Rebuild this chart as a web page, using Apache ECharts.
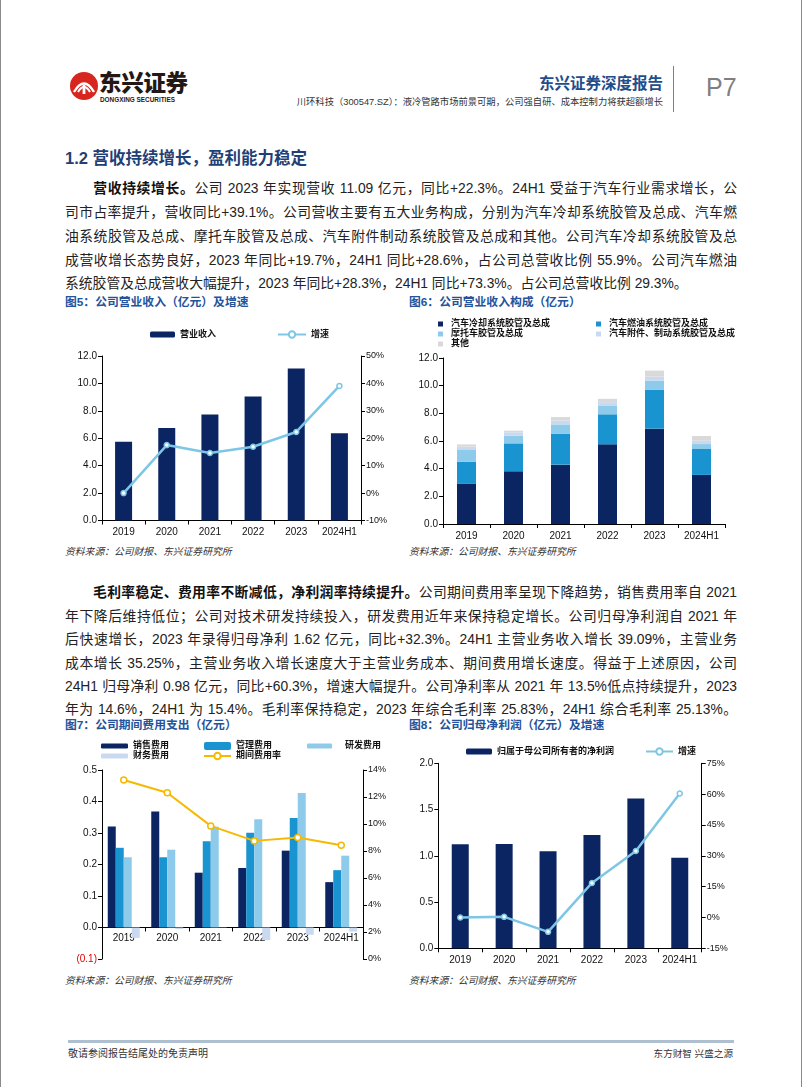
<!DOCTYPE html>
<html>
<head>
<meta charset="utf-8">
<script src="https://cdn.jsdelivr.net/npm/echarts@6/dist/echarts.min.js"></script>
<style>
  html, body { margin:0; padding:0; background:#fff; }
  body { width:802px; height:1087px; position:relative; overflow:hidden;
         font-family:"Liberation Sans","Noto Sans CJK SC",sans-serif; color:#222; }
  .abs { position:absolute; white-space:nowrap; }
  .line { position:absolute; left:65px; width:672px; font-size:13.8px; line-height:18px;
          text-align:justify; text-align-last:justify; white-space:normal; color:#222; }
  .line.last { text-align-last:left; }
  .line b { font-weight:700; color:#111; }
  .figt { position:absolute; font-size:11.8px; color:#24539B; font-weight:700; line-height:16px; white-space:nowrap; }
  .src { position:absolute; font-size:9.8px; font-style:italic; color:#333; white-space:nowrap; line-height:12px; }
  .chart { position:absolute; }
</style>
</head>
<body>
<!-- page edges -->
<div class="abs" style="left:0;top:0;width:1px;height:1087px;background:#8a8a8a;"></div>
<div class="abs" style="left:801px;top:0;width:1px;height:1087px;background:#8a8a8a;"></div>

<!-- header -->
<svg class="abs" style="left:69px;top:71px;" width="30" height="30" viewBox="0 0 30 30">
  <circle cx="15" cy="15" r="14" fill="#D7261E"/>
  <path d="M5 21 Q15 4 25 21" stroke="#fff" stroke-width="2.4" fill="none"/>
  <path d="M9 21 Q15 11 21 21" stroke="#fff" stroke-width="2" fill="none"/>
  <rect x="13.6" y="14" width="2.8" height="9" fill="#fff"/>
</svg>
<div class="abs" style="left:99px;top:72px;font-size:22.5px;font-weight:900;color:#231815;line-height:24px;letter-spacing:-0.3px;">东兴证券</div>
<div class="abs" style="left:100px;top:96px;font-size:6.4px;font-weight:700;color:#231815;line-height:8px;">DONGXING SECURITIES</div>
<div class="abs" style="right:139px;top:74px;font-size:15.5px;font-weight:700;color:#1F4E8C;line-height:20px;">东兴证券深度报告</div>
<div class="abs" style="right:139px;top:96px;font-size:9.3px;color:#333;line-height:12px;">川环科技（300547.SZ）：液冷管路市场前景可期，公司强自研、成本控制力将获超额增长</div>
<div class="abs" style="left:673px;top:66px;width:1px;height:46px;background:#7f7f7f;"></div>
<div class="abs" style="left:706px;top:73px;font-size:25px;color:#7f7f7f;line-height:28px;">P7</div>

<!-- section heading -->
<div class="abs" style="left:65px;top:148px;font-size:16.5px;font-weight:700;color:#1F3F77;line-height:20px;">1.2 营收持续增长，盈利能力稳定</div>

<!-- paragraph 1 -->
<div class="line" style="top:180px;"><span style="display:inline-block;width:27.6px;"></span><b>营收持续增长。</b>公司 2023 年实现营收 11.09 亿元，同比+22.3%。24H1 受益于汽车行业需求增长，公</div>
<div class="line" style="top:204px;">司市占率提升，营收同比+39.1%。公司营收主要有五大业务构成，分别为汽车冷却系统胶管及总成、汽车燃</div>
<div class="line" style="top:228px;">油系统胶管及总成、摩托车胶管及总成、汽车附件制动系统胶管及总成和其他。公司汽车冷却系统胶管及总</div>
<div class="line" style="top:252px;">成营收增长态势良好，2023 年同比+19.7%，24H1 同比+28.6%，占公司总营收比例 55.9%。公司汽车燃油</div>
<div class="line last" style="top:275px;">系统胶管及总成营收大幅提升，2023 年同比+28.3%，24H1 同比+73.3%。占公司总营收比例 29.3%。</div>

<div class="figt" style="left:65px;top:294px;">图5：公司营业收入（亿元）及增速</div>
<div class="figt" style="left:409px;top:294px;">图6：公司营业收入构成（亿元）</div>

<div id="c5" class="chart" style="left:60px;top:315px;width:340px;height:230px;"></div>
<div id="c6" class="chart" style="left:400px;top:310px;width:340px;height:235px;"></div>

<div class="src" style="left:65px;top:546px;">资料来源：公司财报、东兴证券研究所</div>
<div class="src" style="left:409px;top:546px;">资料来源：公司财报、东兴证券研究所</div>

<!-- paragraph 2 -->
<div class="line" style="top:584px;"><span style="display:inline-block;width:27.6px;"></span><b>毛利率稳定、费用率不断减低，净利润率持续提升。</b>公司期间费用率呈现下降趋势，销售费用率自 2021</div>
<div class="line" style="top:608px;">年下降后维持低位；公司对技术研发持续投入，研发费用近年来保持稳定增长。公司归母净利润自 2021 年</div>
<div class="line" style="top:631px;">后快速增长，2023 年录得归母净利 1.62 亿元，同比+32.3%。24H1 主营业务收入增长 39.09%，主营业务</div>
<div class="line" style="top:655px;">成本增长 35.25%，主营业务收入增长速度大于主营业务成本、期间费用增长速度。得益于上述原因，公司</div>
<div class="line" style="top:678px;">24H1 归母净利 0.98 亿元，同比+60.3%，增速大幅提升。公司净利率从 2021 年 13.5%低点持续提升，2023</div>
<div class="line" style="top:701px;">年为 14.6%，24H1 为 15.4%。毛利率保持稳定，2023 年综合毛利率 25.83%，24H1 综合毛利率 25.13%。</div>

<div class="figt" style="left:65px;top:717px;">图7：公司期间费用支出（亿元）</div>
<div class="figt" style="left:409px;top:717px;">图8：公司归母净利润（亿元）及增速</div>

<div id="c7" class="chart" style="left:60px;top:735px;width:340px;height:235px;"></div>
<div id="c8" class="chart" style="left:400px;top:735px;width:340px;height:235px;"></div>

<div class="src" style="left:65px;top:975px;">资料来源：公司财报、东兴证券研究所</div>
<div class="src" style="left:409px;top:975px;">资料来源：公司财报、东兴证券研究所</div>

<!-- footer -->
<div class="abs" style="left:68px;top:1040px;width:666px;height:2.5px;background:#AEC0D0;"></div>
<div class="abs" style="left:68px;top:1048px;font-size:10px;color:#333;line-height:12px;">敬请参阅报告结尾处的免责声明</div>
<div class="abs" style="right:69px;top:1048px;font-size:9.6px;color:#333;line-height:12px;">东方财智 兴盛之源</div>

<script>
// ===== data =====
const years = ['2019', '2020', '2021', '2022', '2023', '2024H1'];
// Fig 5
const revenue = [5.75, 6.75, 7.73, 9.05, 11.09, 6.36];
const revenueGrowth = [0.0, 17.5, 14.6, 16.9, 22.3, 39.1];
// Fig 6
const segCooling = [2.93, 3.81, 4.29, 5.76, 6.89, 3.55];
const segFuel = [1.56, 2.02, 2.22, 2.17, 2.80, 1.87];
const segMoto = [0.86, 0.56, 0.69, 0.60, 0.67, 0.36];
const segBrake = [0.25, 0.24, 0.28, 0.28, 0.30, 0.24];
const segOther = [0.15, 0.12, 0.25, 0.24, 0.43, 0.34];
const segNames = ['汽车冷却系统胶管及总成', '汽车燃油系统胶管及总成', '摩托车胶管及总成', '汽车附件、制动系统胶管及总成', '其他'];
// Fig 7
const salesExp = [0.321, 0.368, 0.174, 0.189, 0.244, 0.144];
const adminExp = [0.253, 0.223, 0.274, 0.301, 0.348, 0.182];
const rdExp = [0.223, 0.247, 0.320, 0.344, 0.427, 0.228];
const finExp = [-0.033, -0.005, -0.001, -0.040, -0.023, -0.013];
const expRate = [13.26, 12.32, 9.86, 8.75, 9.00, 8.43];
// Fig 8
const netProfit = [1.124, 1.128, 1.049, 1.225, 1.62, 0.98];
const netProfitGrowth = [0.0, 0.3, -7.0, 16.8, 32.3, 60.3];

// ===== styles =====
const FONT = 'Liberation Sans, Arial, Noto Sans CJK SC, sans-serif';
const NAVY = '#0B2462';
const MID = '#1A93D1';
const LIGHT = '#8ECBEB';
const PALE = '#C9DAF0';
const GRAY = '#D9D9D9';
const LINEBLUE = '#7EC6E5';
const GOLD = '#F6B900';
const AX = '#000';

function catAxis(margin) {
  return {
    type: 'category', data: years,
    axisLine: { lineStyle: { color: AX, width: 1 } },
    axisTick: { show: true, length: 4, lineStyle: { color: AX } },
    axisLabel: { fontFamily: FONT, fontSize: 10, color: '#111', margin: margin, interval: 0 }
  };
}
function valAxis(min, max, interval, fmt, pos, size) {
  return {
    type: 'value', min: min, max: max, interval: interval, position: pos,
    axisLine: { show: true, lineStyle: { color: AX, width: 1 } },
    axisTick: { show: true, length: 4, lineStyle: { color: AX } },
    splitLine: { show: false },
    axisLabel: { fontFamily: FONT, fontSize: size, color: '#111', formatter: fmt, margin: 5 }
  };
}
const legText = { fontFamily: FONT, fontSize: 9, fontWeight: 'bold', color: '#111' };

// ===== Fig 5 =====
echarts.init(document.getElementById('c5')).setOption({
  animation: false,
  grid: { left: 42, right: 39, top: 41, bottom: 24.5 },
  legend: [
    { data: ['营业收入'], left: 85, top: 10, itemWidth: 25, itemHeight: 6, textStyle: legText, itemGap: 0 },
    { data: ['增速'], left: 212, top: 10, itemWidth: 28, itemHeight: 8, textStyle: legText }
  ],
  xAxis: catAxis(7),
  yAxis: [
    valAxis(0, 12, 2, v => v.toFixed(1), 'left', 10),
    valAxis(-10, 50, 10, v => Math.round(v) + '%', 'right', 9)
  ],
  series: [
    { name: '营业收入', type: 'bar', data: revenue, barWidth: 17, itemStyle: { color: NAVY } },
    { name: '增速', type: 'line', yAxisIndex: 1, data: revenueGrowth, symbol: 'circle', symbolSize: 5,
      lineStyle: { color: LINEBLUE, width: 2.5 },
      itemStyle: { color: '#fff', borderColor: LINEBLUE, borderWidth: 1.5 } }
  ]
});

// ===== Fig 6 =====
const segData = [segCooling, segFuel, segMoto, segBrake, segOther];
const segColors = [NAVY, MID, LIGHT, PALE, GRAY];
echarts.init(document.getElementById('c6')).setOption({
  animation: false,
  grid: { left: 43, right: 15, top: 48, bottom: 21 },
  legend: [
    { data: [segNames[0], segNames[2], segNames[4]], orient: 'vertical', left: 33, top: 4, icon: 'rect',
      itemWidth: 5, itemHeight: 5, itemGap: 0, textStyle: Object.assign({ lineHeight: 10, padding: [0, 0, 0, 3] }, legText) },
    { data: [segNames[1], segNames[3]], orient: 'vertical', left: 191, top: 4, icon: 'rect',
      itemWidth: 5, itemHeight: 5, itemGap: 0, textStyle: Object.assign({ lineHeight: 10, padding: [0, 0, 0, 3] }, legText) }
  ],
  xAxis: catAxis(7),
  yAxis: valAxis(0, 12, 2, v => v.toFixed(1), 'left', 10),
  series: segNames.map((n, i) => ({
    name: n, type: 'bar', stack: 'rev', data: segData[i], barWidth: 19,
    itemStyle: { color: segColors[i] }
  }))
});

// ===== Fig 7 =====
const c7Min = -0.1, c7Max = 0.5, c7Top = 35, c7Bottom = 11, c7H = 235;
const c7ZeroOffset = (0 - c7Min) / (c7Max - c7Min) * (c7H - c7Top - c7Bottom);
const c7x = catAxis(6);
c7x.axisLine.onZero = false;
c7x.offset = -c7ZeroOffset;
echarts.init(document.getElementById('c7')).setOption({
  animation: false,
  grid: { left: 42, right: 37, top: c7Top, bottom: c7Bottom },
  legend: [
    { data: ['销售费用', '财务费用'], orient: 'vertical', left: 36, top: 1, itemWidth: 27, itemHeight: 5, itemGap: 0,
      textStyle: Object.assign({ lineHeight: 10 }, legText) },
    { data: ['管理费用', '期间费用率'], orient: 'vertical', left: 138, top: 1, itemWidth: 27, itemHeight: 8, itemGap: 0,
      textStyle: Object.assign({ lineHeight: 10 }, legText) },
    { data: ['研发费用'], orient: 'vertical', left: 242, top: 1, itemWidth: 25, itemHeight: 5, itemGap: 0,
      textStyle: Object.assign({ lineHeight: 10, padding: [0, 0, 0, 8] }, legText) }
  ],
  xAxis: c7x,
  yAxis: [
    valAxis(c7Min, c7Max, 0.1, v => (v < -1e-9 ? '{neg|(' + Math.abs(v).toFixed(1) + ')}' : v.toFixed(1)), 'left', 10),
    valAxis(0, 14, 2, v => Math.round(v) + '%', 'right', 9)
  ],
  series: [
    { name: '销售费用', type: 'bar', data: salesExp, barWidth: 8, barGap: '0%', itemStyle: { color: NAVY } },
    { name: '管理费用', type: 'bar', data: adminExp, barWidth: 8, barGap: '0%', itemStyle: { color: MID } },
    { name: '研发费用', type: 'bar', data: rdExp, barWidth: 8, barGap: '0%', itemStyle: { color: LIGHT } },
    { name: '财务费用', type: 'bar', data: finExp, barWidth: 8, barGap: '0%', itemStyle: { color: PALE } },
    { name: '期间费用率', type: 'line', yAxisIndex: 1, data: expRate, symbol: 'circle', symbolSize: 6,
      lineStyle: { color: GOLD, width: 2 }, itemStyle: { color: '#fff', borderColor: GOLD, borderWidth: 1.5 } }
  ]
});
echarts.getInstanceByDom(document.getElementById('c7')).setOption({
  yAxis: [{ axisLabel: { rich: { neg: { color: '#E00000', fontFamily: FONT, fontSize: 10 } } } }, {}]
});

// ===== Fig 8 =====
echarts.init(document.getElementById('c8')).setOption({
  animation: false,
  grid: { left: 38.3, right: 38.3, top: 28.3, bottom: 21.7 },
  legend: [
    { data: ['归属于母公司所有者的净利润'], left: 61, top: 7, itemWidth: 26, itemHeight: 6, textStyle: legText },
    { data: ['增速'], left: 240, top: 7, itemWidth: 27, itemHeight: 8, textStyle: legText }
  ],
  xAxis: catAxis(7),
  yAxis: [
    valAxis(0, 2, 0.5, v => v.toFixed(1), 'left', 10),
    valAxis(-15, 75, 15, v => Math.round(v) + '%', 'right', 9)
  ],
  series: [
    { name: '归属于母公司所有者的净利润', type: 'bar', data: netProfit, barWidth: 17, itemStyle: { color: NAVY } },
    { name: '增速', type: 'line', yAxisIndex: 1, data: netProfitGrowth, symbol: 'circle', symbolSize: 5,
      lineStyle: { color: LINEBLUE, width: 2.5 },
      itemStyle: { color: '#fff', borderColor: LINEBLUE, borderWidth: 1.5 } }
  ]
});
</script>
</body>
</html>
